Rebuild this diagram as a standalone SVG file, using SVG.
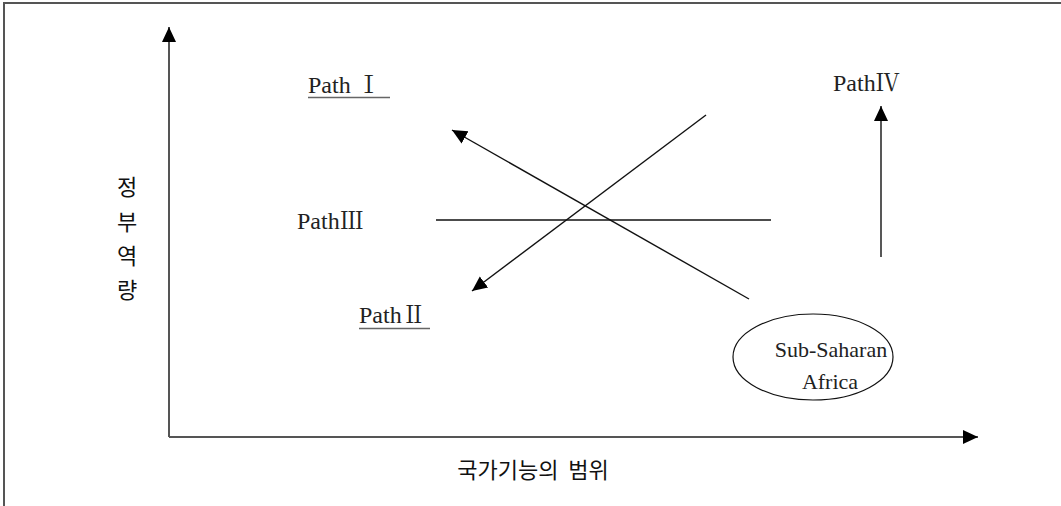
<svg xmlns="http://www.w3.org/2000/svg" width="1061" height="506" viewBox="0 0 1061 506">
<defs>
<marker id="ah" markerUnits="userSpaceOnUse" markerWidth="16" markerHeight="16" viewBox="0 0 16 16" refX="15" refY="8" orient="auto">
<path d="M0,1 L15,8 L0,15 Z" fill="#000"/>
</marker>
</defs>
<style>
.serif{font-family:"Liberation Serif","Noto Serif CJK KR","Noto Sans CJK KR",serif;font-size:24px;fill:#222}
.ssa{font-size:22px}
.kr{font-family:"Noto Sans CJK KR","Noto Sans",sans-serif;font-size:22px;font-weight:400;fill:#111}
.ln{stroke:#111;stroke-width:1.4;fill:none}
.ax{stroke:#555;stroke-width:2;fill:none}
.ul{stroke:#666;stroke-width:1.5}
</style>
<rect width="1061" height="506" fill="#fff"/>
<g id="frame">
<path d="M4,506 V3 H1061" class="ax" stroke="#333"/>
</g>
<g id="connectors">
<line x1="169" y1="437" x2="169" y2="27" class="ax" marker-end="url(#ah)"/>
<line x1="169" y1="437" x2="978" y2="437" class="ax" marker-end="url(#ah)"/>
<line x1="749" y1="299" x2="452" y2="130" class="ln" marker-end="url(#ah)"/>
<line x1="706" y1="115" x2="472" y2="291" class="ln" marker-end="url(#ah)"/>
<line x1="436" y1="220" x2="771" y2="220" class="ln"/>
<line x1="881" y1="257" x2="881" y2="106" class="ln" marker-end="url(#ah)"/>
</g>
<g id="path1">
<text x="308" y="93" class="serif">Path Ⅰ</text>
<line x1="308" y1="97.5" x2="390" y2="97.5" class="ul"/>
</g>
<g id="path3">
<text x="297" y="229" class="serif">PathⅢ</text>
</g>
<g id="path2">
<text x="359" y="323" class="serif">PathⅡ</text>
<line x1="359" y1="328.5" x2="430" y2="328.5" class="ul"/>
</g>
<g id="path4">
<text x="833" y="91" class="serif">PathⅣ</text>
</g>
<g id="ssa">
<ellipse cx="813" cy="357" rx="80" ry="43" fill="none" stroke="#111" stroke-width="1.2"/>
<text x="831" y="357" class="serif ssa" text-anchor="middle">Sub-Saharan</text>
<text x="830" y="389" class="serif ssa" text-anchor="middle">Africa</text>
</g>
<g id="ylabel">
<text x="127" y="195" class="kr" text-anchor="middle">정</text>
<text x="127" y="230" class="kr" text-anchor="middle">부</text>
<text x="127" y="264" class="kr" text-anchor="middle">역</text>
<text x="127" y="298" class="kr" text-anchor="middle">량</text>
</g>
<g id="xlabel">
<text x="533" y="478" class="kr" text-anchor="middle" xml:space="preserve">국가기능의  범위</text>
</g>
</svg>
